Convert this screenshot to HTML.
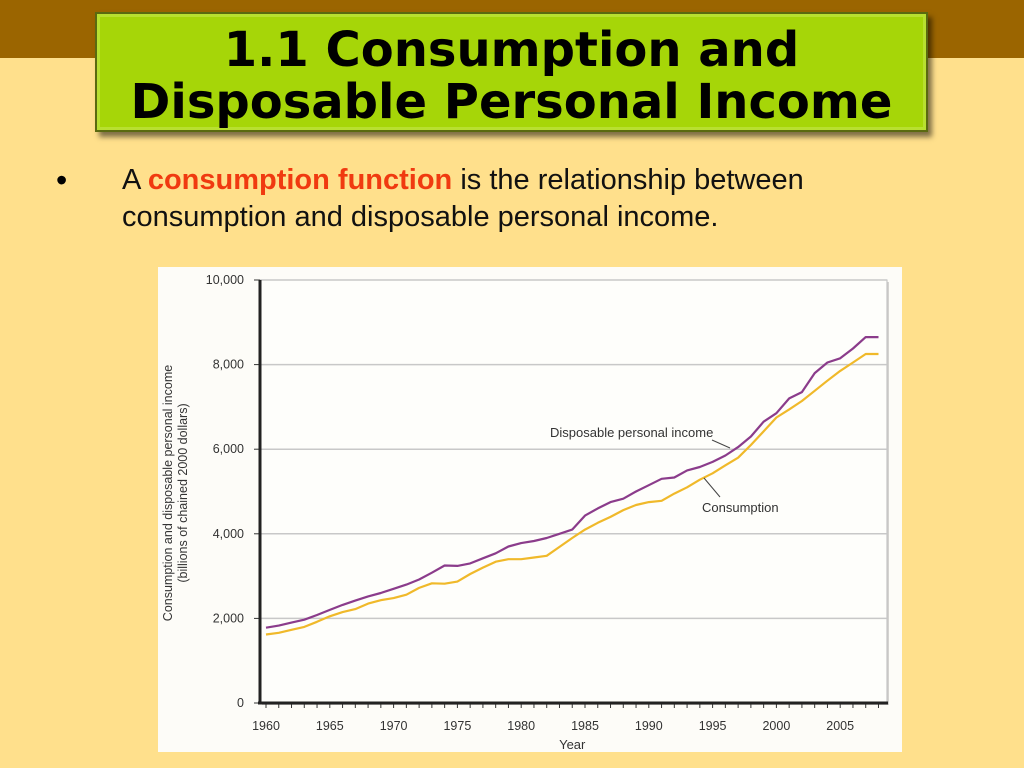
<!DOCTYPE html>
<html><head><meta charset="utf-8"><style>
body{margin:0;width:1024px;height:768px;background:#FFE08C;position:relative;overflow:hidden;font-family:"Liberation Sans",sans-serif}
#band{position:absolute;left:0;top:0;width:1024px;height:58px;background:#9B6500}
#title{position:absolute;left:95px;top:12px;width:833px;height:120px;background:#A6D608;border:2px solid #5a6a10;box-shadow:4px 5px 5px rgba(0,0,0,.5),inset 0 0 0 3px #b8e030;text-align:center;font-family:"DejaVu Sans",sans-serif;font-weight:bold;font-size:48px;line-height:52px;padding-top:10px;box-sizing:border-box;color:#000;white-space:nowrap}
#bullet{position:absolute;left:56px;top:162px;font-size:32px}
#body{position:absolute;left:122px;top:162px;font-size:29px;line-height:37px;color:#111;width:810px}
#body b{color:#F03A10}
#chart{position:absolute;left:158px;top:267px}
</style></head><body>
<div id="band"></div>
<div id="title">1.1 Consumption and<br>Disposable Personal Income</div>
<div id="bullet">•</div>
<div id="body">A <b>consumption function</b> is the relationship between consumption and disposable personal income.</div>
<svg id="chart" width="744" height="485" font-family="Liberation Sans, sans-serif">
<rect width="744" height="485" fill="#FDFCF8"/>
<g id="g"></g>
</svg>
<script>
const years=[];for(let y=1960;y<=2008;y++)years.push(y);
const dpiValues=[1780,1830,1900,1970,2080,2200,2320,2420,2520,2600,2700,2800,2920,3080,3250,3240,3300,3420,3540,3700,3780,3830,3900,4000,4100,4430,4600,4750,4830,5000,5150,5300,5330,5500,5580,5700,5850,6050,6300,6650,6850,7200,7350,7600,7800,8050,8150,8400,8650,8650].slice(0,49);
const consValues=[1620,1660,1730,1800,1920,2050,2150,2220,2350,2430,2480,2560,2720,2830,2820,2870,3050,3200,3340,3400,3400,3440,3480,3690,3900,4100,4260,4400,4560,4680,4750,4780,4950,5100,5280,5430,5620,5800,6100,6420,6750,6940,7140,7380,7620,7850,8050,8250,8250];
dpiValues[45]=8150;dpiValues[46]=8380;dpiValues[47]=8650;dpiValues[48]=8650;dpiValues[44]=8050;dpiValues[43]=7800;
const yTicks=[0,2000,4000,6000,8000,10000];
const yTickLabels=["0","2,000","4,000","6,000","8,000","10,000"];
const xTickLabels=["1960","1965","1970","1975","1980","1985","1990","1995","2000","2005"];
const OX=158,OY=267;
const X=v=>266+(v-1960)*12.76-OX;
const Y=v=>703-v*0.0423-OY;
const NS="http://www.w3.org/2000/svg";
const g=document.getElementById('g');
function mk(t,a,p){const e=document.createElementNS(NS,t);for(const k in a)e.setAttribute(k,a[k]);(p||g).appendChild(e);return e;}
mk('rect',{x:104,y:15,width:627,height:423,fill:'#888',opacity:0.35});
mk('rect',{x:102,y:13,width:627,height:423,fill:'#FEFEFB',stroke:'#bbb','stroke-width':1});
yTicks.forEach((v,i)=>{
 if(v>0){const l=mk('line',{x1:102,x2:729,y1:Y(v),y2:Y(v),stroke:'#c8c8c8','stroke-width':1.5});}
 const t=mk('text',{x:86,y:Y(v)+4,'text-anchor':'end','font-size':12.5,fill:'#333'});t.textContent=yTickLabels[i];
 
 mk('line',{x1:96,x2:102,y1:Y(v),y2:Y(v),stroke:'#333'});
});
years.forEach(y=>mk('line',{x1:X(y),x2:X(y),y1:Y(0),y2:Y(0)+5,stroke:'#333'}));
xTickLabels.forEach(s=>{const t=mk('text',{x:X(+s),y:Y(0)+27,'text-anchor':'middle','font-size':12.5,fill:'#333'});t.textContent=s;
 });
mk('line',{x1:102,x2:102,y1:13,y2:Y(0)+1,stroke:'#222','stroke-width':3});
mk('line',{x1:100,x2:730,y1:Y(0),y2:Y(0),stroke:'#222','stroke-width':3});
function line(vals,c,name){const d=vals.map((v,i)=>(i?'L':'M')+X(years[i]).toFixed(1)+','+Y(v).toFixed(1)).join('');
 const p=mk('path',{d:d,fill:'none',stroke:c,'stroke-width':2.2,'stroke-linejoin':'round'});
 }
line(consValues,'#F0B92A','consumption-line');
line(dpiValues,'#8B3C8B','dpi-line');
let t=mk('text',{x:392,y:170,'font-size':13,fill:'#333'});t.textContent='Disposable personal income';

mk('line',{x1:554,y1:173,x2:572,y2:181,stroke:'#444'});
t=mk('text',{x:544,y:245,'font-size':13,fill:'#333'});t.textContent='Consumption';

mk('line',{x1:546,y1:211,x2:562,y2:230,stroke:'#444'});
t=mk('text',{x:X(1984),y:Y(0)+46,'text-anchor':'middle','font-size':13,fill:'#333'});t.textContent='Year';

t=mk('text',{transform:'translate(14,226) rotate(-90)','text-anchor':'middle','font-size':12.5,fill:'#333'});

mk('tspan',{x:0,dy:0},t).textContent='Consumption and disposable personal income';
mk('tspan',{x:0,dy:15},t).textContent='(billions of chained 2000 dollars)';
</script>
</body></html>
